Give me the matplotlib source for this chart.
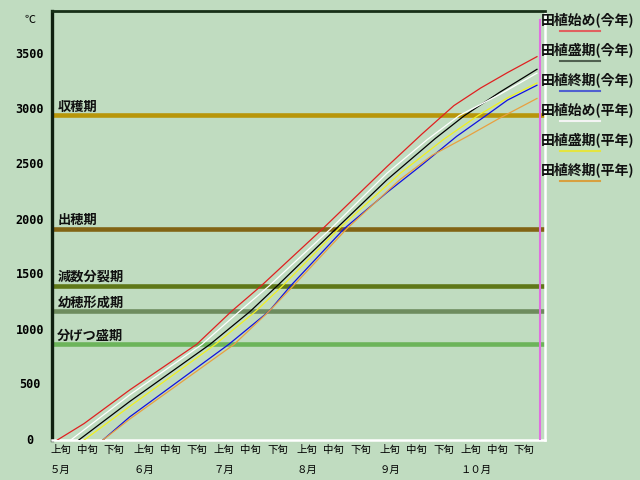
import matplotlib.pyplot as plt
from matplotlib.transforms import blended_transform_factory

plt.rcParams['font.family'] = ['Noto Sans CJK JP', 'DejaVu Sans']

# 5月1日を0日目とした日数と積算気温(℃)
red_days = [2, 12, 29, 54, 67, 78, 101, 125, 138, 150, 160, 170, 181]
red_vals = [0, 150, 455, 870, 1170, 1400, 1920, 2485, 2780, 3040, 3200, 3340, 3485]
black_days = [10, 29, 59, 74, 84, 106, 125, 143, 154, 167, 181]
black_vals = [0, 350, 870, 1170, 1400, 1920, 2365, 2740, 2950, 3160, 3370]
blue_days = [19, 29, 66, 81, 89, 109, 125, 138, 151, 162, 170, 181]
blue_vals = [0, 210, 870, 1170, 1400, 1920, 2250, 2500, 2760, 2950, 3090, 3225]
white_days = [7, 29, 56, 70, 81, 104, 125, 140, 152, 167, 181]
white_vals = [0, 410, 870, 1170, 1400, 1920, 2425, 2730, 2950, 3140, 3335]
yellow_days = [12, 29, 61, 76, 86, 107, 130, 146, 159, 170, 181]
yellow_vals = [0, 305, 870, 1170, 1400, 1920, 2425, 2730, 2950, 3110, 3245]
orange_days = [19, 29, 68, 81, 90, 110, 130, 142, 155, 167, 181]
orange_vals = [0, 190, 870, 1170, 1400, 1920, 2370, 2590, 2760, 2925, 3105]

series_names = ['田植始め(今年)', '田植盛期(今年)', '田植終期(今年)',
                '田植始め(平年)', '田植盛期(平年)', '田植終期(平年)']
series_colors = ['#e02020', '#000000', '#1010e0', '#ffffff', '#f0f020', '#e8a040']
legend_colors = ['#e06060', '#506050', '#5060d0', '#f4f4f4', '#e4e440', '#d8a040']

stage_names = ['収穫期', '出穂期', '減数分裂期', '幼穂形成期', '分げつ盛期']
stage_vals = [2950, 1920, 1400, 1170, 870]
stage_colors = ['#b8960a', '#826414', '#5f7818', '#6e8c5e', '#6cb45a']

month_names = ['５月', '６月', '７月', '８月', '９月', '１０月']
month_starts = [0, 31, 61, 92, 123, 153]
dekad_names = ['上旬', '中旬', '下旬']
yticks = [0, 500, 1000, 1500, 2000, 2500, 3000, 3500]
today = 182

bg = '#c0dcc0'
fig = plt.figure(figsize=(6.4, 4.8), dpi=100, facecolor=bg)
ax = fig.add_axes([52/640, 40/480, 493/640, 429/480], facecolor=bg)
ax.set_xlim(0, 184)
ax.set_ylim(0, 3900)

# 生育ステージの目安線
for name, v, c in zip(stage_names, stage_vals, stage_colors):
    ax.axhline(v, color=c, lw=3.3, zorder=2)
    ax.text(2, v + 18, name, fontsize=9.5, fontweight='bold', color='#101010',
            va='bottom', ha='left', zorder=5)

all_days = [red_days, black_days, blue_days, white_days, yellow_days, orange_days]
all_vals = [red_vals, black_vals, blue_vals, white_vals, yellow_vals, orange_vals]
for d, v, c in zip(all_days, all_vals, series_colors):
    ax.plot(d, v, color=c, lw=0.9, zorder=3)

ax.axvline(today, ymax=0.979, color='#e070e0', lw=1.5, zorder=4)

# 枠線
ax.spines['left'].set_color('#102010')
ax.spines['left'].set_linewidth(2.4)
ax.spines['top'].set_color('#183018')
ax.spines['top'].set_linewidth(2.0)
ax.spines['right'].set_color('white')
ax.spines['right'].set_linewidth(1.8)
ax.spines['bottom'].set_color('white')
ax.spines['bottom'].set_linewidth(1.8)
ax.set_xticks([])
ax.set_yticks([])

# y軸ラベル
ty = blended_transform_factory(ax.transAxes, ax.transData)
for v in yticks:
    ax.text(-22/493, v, str(v), transform=ty, ha='center', va='center',
            fontsize=8.5, fontweight='bold', family='DejaVu Sans Mono')
ax.text(-22/493, 3820, '℃', transform=ty, ha='center', va='center', fontsize=8)

# x軸ラベル(旬と月)
tx = ax.get_xaxis_transform()
for m, s in zip(month_names, month_starts):
    for k, dn in enumerate(dekad_names):
        ax.text(s + 10*k - 0.7, -10/429, dn, transform=tx, ha='left', va='center',
                fontsize=7.5)
    ax.text(s - 0.7, -30/429, m, transform=tx, ha='left', va='center', fontsize=7.5)

# 凡例
for i, (name, c) in enumerate(zip(series_names, legend_colors)):
    y_txt = 1 - (20 + 30*i)/480
    y_line = 1 - (31 + 30*i)/480
    fig.text(541/640, y_txt, name, fontsize=10, fontweight='bold',
             ha='left', va='center', color='#101010')
    fig.add_artist(plt.Line2D([560/640, 600/640], [y_line, y_line],
                              color=c, lw=1.5, transform=fig.transFigure))

fig.savefig('out.png', dpi=100, facecolor=bg)
